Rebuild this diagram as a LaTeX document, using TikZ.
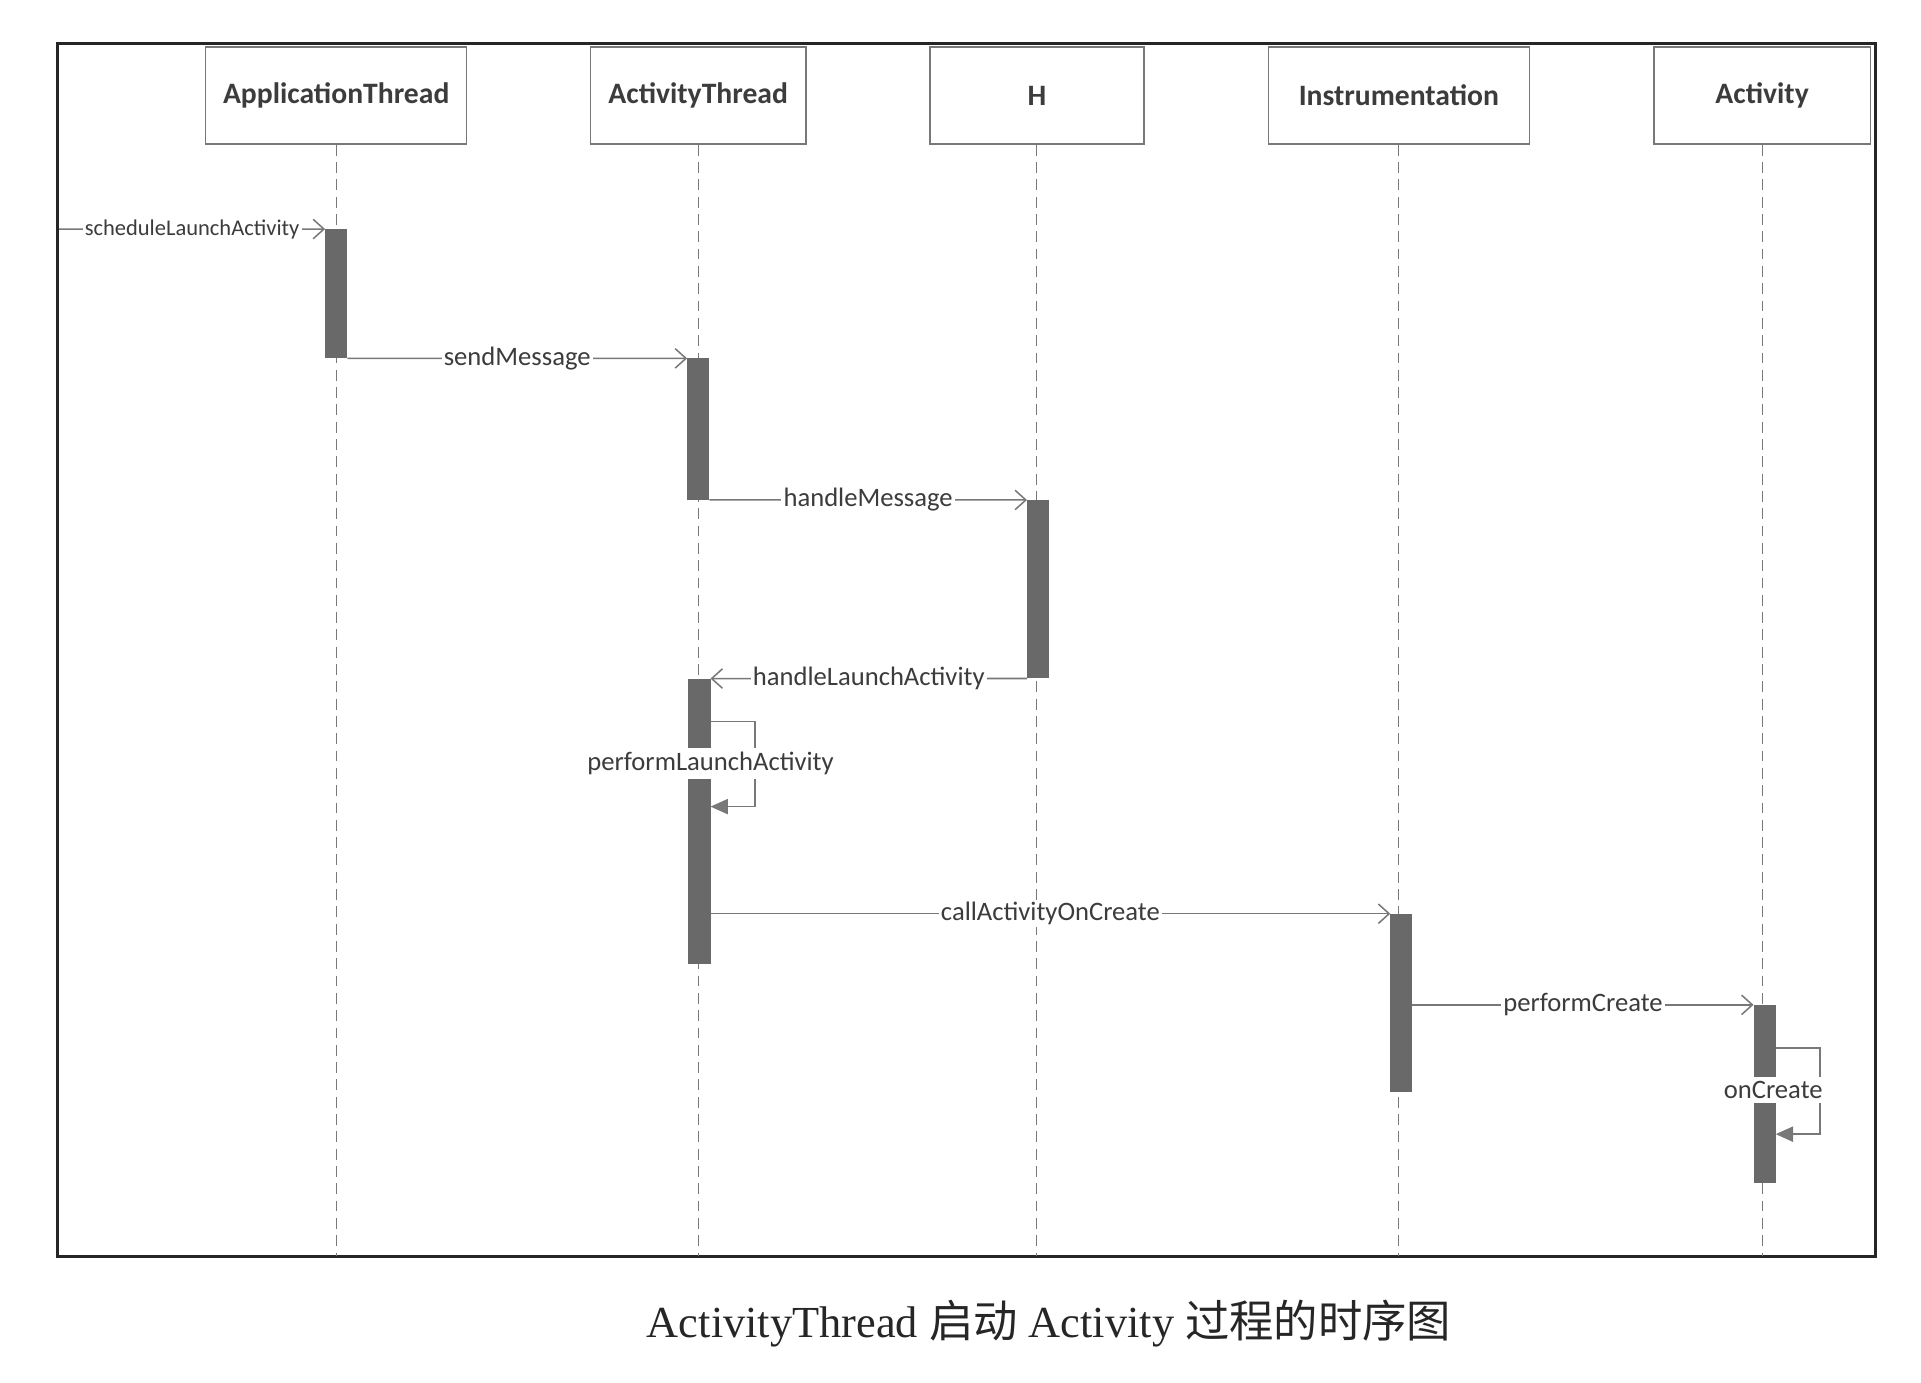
\documentclass[tikz,border=0pt]{standalone}
\usepackage{fontspec}
\setmainfont{Liberation Serif}
\newfontfamily\cjk{Noto Sans CJK SC}
\newfontfamily\uifont{Carlito}
\definecolor{linegray}{RGB}{120, 120, 120}
\definecolor{bargray}{RGB}{105, 105, 105}
\definecolor{textgray}{RGB}{60, 60, 60}
\usetikzlibrary{arrows.meta, positioning, calc}

\tikzset{
  header/.style={draw=linegray, line width=0.7pt, fill=white, minimum height=1.58cm,
    font=\uifont\bfseries\fontsize{13.7}{16}\selectfont, text=textgray},
  life/.style={draw=linegray, line width=0.5pt, dash pattern=on 5pt off 3pt},
  bar/.style={fill=bargray, draw=none, minimum width=0.36cm, inner sep=0pt, outer sep=0pt},
  msg/.style={draw=linegray, line width=0.7pt, -{Straight Barb[length=5pt, width=9pt]}},
  selfmsg/.style={draw=linegray, line width=0.7pt, -{Triangle[length=8pt, width=7pt]}},
  lbl/.style={fill=white, inner sep=1pt, text=textgray, font=\uifont\fontsize{12.3}{14}\selectfont}
}

\begin{document}
\begin{tikzpicture}[x=0.02cm, y=-0.02cm]
  \useasboundingbox (0,0) rectangle (1560,1123);
  \fill[white] (0,0) rectangle (1560,1123);

  % frame
  \draw[black!85, line width=1.4pt] (47,35) rectangle (1523,1020);
  \coordinate (bottom) at (0,1020);
  \coordinate (entry) at (48,186);

  % lifeline heads
  \node[header, minimum width=4.24cm] (apthread) at (273,77.5) {ApplicationThread};
  \node[header, minimum width=3.5cm] (acthread) at (567,77.5) {ActivityThread};
  \node[header, minimum width=3.48cm] (handler) at (842,77.5) {H};
  \node[header, minimum width=4.24cm] (instr) at (1136,77.5) {Instrumentation};
  \node[header, minimum width=3.52cm] (activity) at (1431,77.5) {Activity};

  % lifelines
  \draw[life] (apthread.south) -- (apthread.south |- bottom);
  \draw[life] (acthread.south) -- (acthread.south |- bottom);
  \draw[life] (handler.south) -- (handler.south |- bottom);
  \draw[life] (instr.south) -- (instr.south |- bottom);
  \draw[life] (activity.south) -- (activity.south |- bottom);

  % activations
  \node[bar, minimum height=2.1cm] (apbar) at (273,238.5) {};
  \node[bar, minimum height=2.3cm] (acbar) at (567,348.5) {};
  \node[bar, minimum height=2.9cm] (hbar) at (843,478.5) {};
  \node[bar, minimum height=4.64cm] (launchbar) at (568,667) {};
  \node[bar, minimum height=2.9cm] (instrbar) at (1138,814.5) {};
  \node[bar, minimum height=2.9cm] (actbar) at (1433,888.5) {};

  % messages
  \draw[msg] (entry) -- (apbar.north west)
    node[lbl, midway, font=\uifont\fontsize{10.4}{12}\selectfont] {scheduleLaunchActivity};
  \draw[msg] (apbar.south east) -- (acbar.north west) node[lbl, midway] {sendMessage};
  \draw[msg] (acbar.south east) -- (hbar.north west) node[lbl, midway] {handleMessage};
  \draw[msg] (hbar.south west) -- (launchbar.north east) node[lbl, midway] {handleLaunchActivity};
  \draw[msg] (launchbar.east |- instrbar.north) -- (instrbar.north west) node[lbl, midway] {callActivityOnCreate};
  \draw[msg] (instrbar.east |- actbar.north) -- (actbar.north west) node[lbl, midway] {performCreate};

  % self calls
  \draw[selfmsg] ($(launchbar.north east)+(0,35)$) -- ++(36,0) -- ++(0,69) -- ($(launchbar.north east)+(0,104)$);
  \node[lbl, inner sep=2pt] (perflabel) at (577,620) {performLaunchActivity};
  \draw[selfmsg] ($(actbar.north east)+(0,35)$) -- ++(36,0) -- ++(0,70) -- ($(actbar.north east)+(0,105)$);
  \node[lbl, inner sep=2pt] (createlabel) at (1440,885) {onCreate};

  % caption
  \node[font=\fontsize{20.5}{24}\selectfont, text=black!85] (caption) at (852,1075)
    {ActivityThread {\cjk 启动} Activity {\cjk 过程的时序图}};
\end{tikzpicture}
\end{document}
